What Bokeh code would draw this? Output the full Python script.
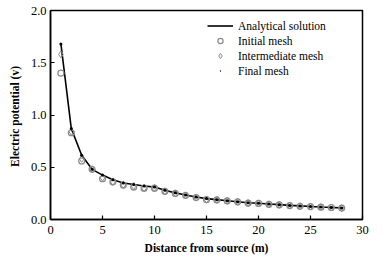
from bokeh.plotting import figure
from bokeh.models import FixedTicker, PrintfTickFormatter, Legend, LegendItem, Range1d
from bokeh.embed import file_html
from bokeh.resources import INLINE

distance = [1, 2, 3, 4, 5, 6, 7, 8, 9, 10, 11, 12, 13, 14, 15, 16, 17, 18, 19, 20,
            21, 22, 23, 24, 25, 26, 27, 28]
analytical = [1.68, 0.87, 0.615, 0.48, 0.425, 0.38, 0.35, 0.335, 0.32, 0.31, 0.28, 0.255,
              0.235, 0.215, 0.20, 0.19, 0.18, 0.17, 0.16, 0.155, 0.148, 0.142, 0.135,
              0.13, 0.125, 0.12, 0.116, 0.11]
initial_mesh = [1.40, 0.83, 0.56, 0.48, 0.39, 0.36, 0.33, 0.31, 0.30, 0.30, 0.27, 0.25,
                0.23, 0.21, 0.19, 0.187, 0.178, 0.169, 0.157, 0.154, 0.145, 0.14, 0.133,
                0.127, 0.124, 0.118, 0.115, 0.109]
intermediate_mesh = [1.58, 0.84, 0.58, 0.48, 0.40, 0.36, 0.33, 0.32, 0.30, 0.30, 0.27, 0.25,
                     0.23, 0.21, 0.19, 0.187, 0.178, 0.169, 0.157, 0.154, 0.145, 0.14, 0.133,
                     0.127, 0.124, 0.118, 0.115, 0.109]
final_mesh = analytical
x_ticks = [0, 5, 10, 15, 20, 25, 30]
y_ticks = [0.0, 0.5, 1.0, 1.5, 2.0]

FONT = "Liberation Serif"

p = figure(width=374, height=263, output_backend="svg", toolbar_location=None,
           x_range=Range1d(0, 30), y_range=Range1d(0, 2.0),
           min_border_left=50, min_border_right=12, min_border_top=10, min_border_bottom=44)
p.background_fill_color = "white"
p.border_fill_color = "white"
p.grid.visible = False
p.outline_line_color = "black"
p.outline_line_width = 1.5

r_line = p.line(distance, analytical, line_color="black", line_width=1.6)
r_init = p.scatter(distance, initial_mesh, marker="circle", size=6, fill_color="white",
                   fill_alpha=0.0, line_color="#8a8a8a", line_width=1.2)
r_inter = p.scatter(distance, intermediate_mesh, marker="diamond", size=7, fill_alpha=0.0,
                    line_color="#8a8a8a", line_width=1.0)
r_final = p.scatter(distance, final_mesh, marker="dot", size=12, line_color="black")

for ax in (p.xaxis[0], p.yaxis[0]):
    ax.axis_line_color = "black"
    ax.axis_line_width = 1.5
    ax.major_tick_in = 4
    ax.major_tick_out = 0
    ax.major_tick_line_width = 1.2
    ax.minor_tick_line_color = None
    ax.major_label_text_font = FONT
    ax.major_label_text_font_size = "12.5px"
    ax.major_label_text_color = "black"
    ax.axis_label_text_font = FONT
    ax.axis_label_text_font_style = "bold"
    ax.axis_label_text_font_size = "11.5px"
    ax.axis_label_text_color = "black"

p.xaxis.ticker = FixedTicker(ticks=x_ticks)
p.yaxis.ticker = FixedTicker(ticks=y_ticks)
p.yaxis.formatter = PrintfTickFormatter(format="%.1f")
p.xaxis.axis_label = "Distance from source (m)"
p.yaxis.axis_label = "Electric  potential (v)"
p.xaxis.major_label_standoff = 6
p.xaxis.axis_label_standoff = 5
p.yaxis.major_label_standoff = 4
p.yaxis.axis_label_standoff = 7

legend = Legend(items=[
    LegendItem(label="Analytical solution", renderers=[r_line]),
    LegendItem(label="Initial mesh", renderers=[r_init]),
    LegendItem(label="Intermediate mesh", renderers=[r_inter]),
    LegendItem(label="Final mesh", renderers=[r_final]),
], location=(157, 142))
legend.border_line_color = None
legend.background_fill_alpha = 0.0
legend.padding = 0
legend.margin = 0
legend.spacing = 2
legend.glyph_width = 26
legend.glyph_height = 13
legend.label_height = 13
legend.label_standoff = 5
legend.label_text_font = FONT
legend.label_text_font_size = "11.5px"
legend.label_text_color = "black"
p.add_layout(legend)

open("out.html", "w").write(file_html(p, INLINE))
